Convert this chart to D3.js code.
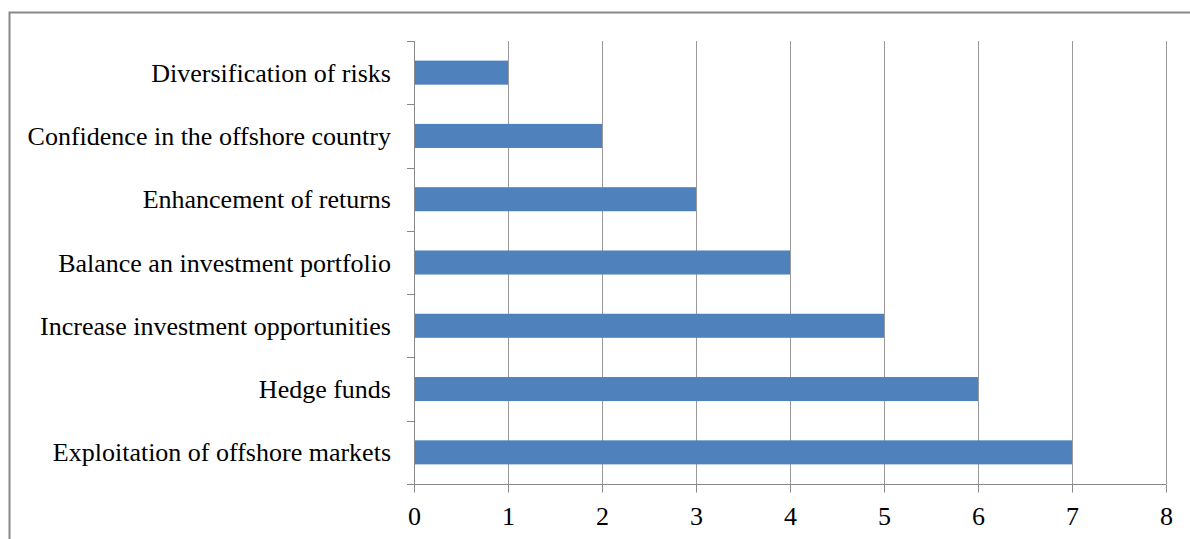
<!DOCTYPE html>
<html>
<head>
  <script src="https://d3js.org/d3.v7.min.js"></script>
  <style>
    body { margin:0; background:#fff; }
    text { font-family: 'Liberation Serif', 'Times New Roman', serif; fill:#000; }
    .grid-line { stroke:#999; stroke-width:1; }
    .axis path, .axis line { stroke:#888; }
  </style>
</head>
<body>
<script>
var categories = ["Diversification of risks", "Confidence in the offshore country",
  "Enhancement of returns", "Balance an investment portfolio",
  "Increase investment opportunities", "Hedge funds", "Exploitation of offshore markets"];
var values = [1, 2, 3, 4, 5, 6, 7];
var xTicks = [0, 1, 2, 3, 4, 5, 6, 7, 8];

var W = 1190, H = 539;
var margin = {top: 41, left: 414, right: 24, bottom: 55};
var width = W - margin.left - margin.right,
    height = H - margin.top - margin.bottom;

var svg = d3.select("body").append("svg")
  .attr("width", W).attr("height", H);

// outer frame (runs off right and bottom)
svg.append("rect")
  .attr("x", 9.5).attr("y", 12.5)
  .attr("width", W + 20).attr("height", H + 20)
  .attr("fill", "none").attr("stroke", "#888").attr("stroke-width", 2);

var g = svg.append("g").attr("transform", "translate(" + margin.left + "," + margin.top + ")");

var x = d3.scaleLinear().domain([0, 8]).range([0, width]);
var y = d3.scaleBand().domain(categories).range([0, height]).paddingInner(0.62).paddingOuter(0.31);

// vertical grid
g.append("g").selectAll("line")
  .data(xTicks.slice(1))
  .enter().append("line")
    .attr("class", "grid-line")
    .attr("x1", d => Math.round(x(d)) + 0.5).attr("x2", d => Math.round(x(d)) + 0.5)
    .attr("y1", 0).attr("y2", height);

// bars
g.append("g").selectAll("rect")
  .data(values)
  .enter().append("rect")
    .attr("x", x(0))
    .attr("y", (d, i) => y(categories[i]))
    .attr("width", d => x(d) - x(0))
    .attr("height", y.bandwidth())
    .attr("fill", "#4f81bd");

// y axis: ticks between categories
var yAx = g.append("g").attr("class", "axis");
yAx.append("line").attr("x1", 0.5).attr("x2", 0.5).attr("y1", 0).attr("y2", height).attr("stroke", "#888");
var step = height / categories.length;
yAx.selectAll(".ytick")
  .data(d3.range(categories.length + 1))
  .enter().append("line")
    .attr("x1", -7).attr("x2", 0)
    .attr("y1", d => Math.round(d * step) + 0.5).attr("y2", d => Math.round(d * step) + 0.5)
    .attr("stroke", "#888");
yAx.selectAll("text")
  .data(categories)
  .enter().append("text")
    .attr("x", -23)
    .attr("y", d => y(d) + y.bandwidth() / 2)
    .attr("dy", "0.35em")
    .attr("text-anchor", "end")
    .style("font-size", "26px")
    .text(d => d);

// x axis
var xAxis = d3.axisBottom(x).tickValues(xTicks).tickSize(8).tickSizeOuter(0).tickPadding(14);
var xg = g.append("g").attr("class", "axis")
  .attr("transform", "translate(0," + (height + 0.5) + ")")
  .call(xAxis);
xg.select(".domain").attr("d", "M-7,0H" + width);
xg.selectAll("text").style("font-size", "26px").attr("fill", "#000");
</script>
</body>
</html>
